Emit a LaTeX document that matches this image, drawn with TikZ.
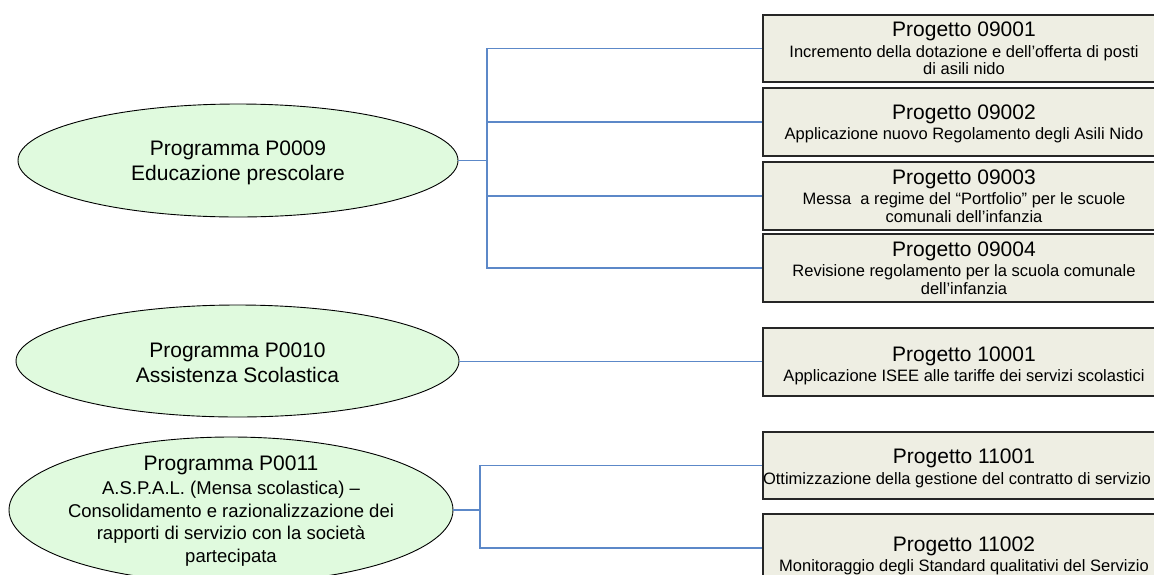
\documentclass[tikz,border=0pt]{standalone}
\usepackage{fontspec}
\setmainfont{Liberation Sans}
\usetikzlibrary{shapes.geometric}
\definecolor{ellfill}{RGB}{224,250,222}
\definecolor{boxfill}{RGB}{238,238,227}
\definecolor{linkblue}{RGB}{92,136,200}
\newcommand{\ttlfont}{\fontsize{21}{25}\selectfont}
\newcommand{\subfont}{\fontsize{16.5}{17.7}\selectfont}
\newcommand{\ellsub}{\fontsize{18.5}{22.7}\selectfont}
\tikzset{
  progell/.style={ellipse, draw=black, line width=0.9pt, fill=ellfill, inner sep=0pt,
    minimum width=#1},
  progetto/.style={rectangle, draw=black!85, line width=1.3pt, fill=boxfill, inner sep=0pt,
    minimum width=402pt, minimum height=67pt},
  ptext/.style={align=center, font=\subfont, inner sep=0pt},
  ettext/.style={align=center, font=\ttlfont, inner sep=0pt, yshift=-2pt},
  link/.style={draw=linkblue, line width=1.2pt},
}
\begin{document}
\begin{tikzpicture}[x=1pt,y=-1pt]
\useasboundingbox (0,0) rectangle (1154,574);
\clip (0,0) rectangle (1154,574);

% ellipses
\node[progell=440pt, minimum height=113pt,
  label={[ettext]center:Programma P0009\\Educazione prescolare}] (e9) at (238,160.5) {};
\node[progell=443pt, minimum height=112pt,
  label={[ettext]center:Programma P0010\\Assistenza Scolastica}] (e10) at (237.5,361) {};
\node[progell=444pt, minimum height=146pt,
  label={[ettext, font=\ellsub, yshift=1pt]center:{\ttlfont Programma P0011}\\[1.3pt]A.S.P.A.L. (Mensa scolastica) –\\Consolidamento e razionalizzazione dei\\rapporti di servizio con la società\\partecipata}] (e11) at (231,510) {};

% boxes
\node[progetto, minimum height=67pt,
  label={[ptext]center:{\ttlfont Progetto 09001}\\[2.9pt]Incremento della dotazione e dell’offerta di posti\\di asili nido}] (p1) at (964,48.5) {};
\node[progetto, minimum height=68pt,
  label={[ptext, yshift=-2pt]center:{\ttlfont Progetto 09002}\\[2.9pt]Applicazione nuovo Regolamento degli Asili Nido}] (p2) at (964,122) {};
\node[progetto, minimum height=68pt,
  label={[ptext]center:{\ttlfont Progetto 09003}\\[2.9pt]Messa\ \ a regime del “Portfolio” per le scuole\\comunali dell’infanzia}] (p3) at (964,196) {};
\node[progetto, minimum height=68pt,
  label={[ptext]center:{\ttlfont Progetto 09004}\\[2.9pt]Revisione regolamento per la scuola comunale\\dell’infanzia}] (p4) at (964,268) {};
\node[progetto, minimum height=68pt,
  label={[ptext, yshift=-4pt]center:{\ttlfont Progetto 10001}\\[2.9pt]Applicazione ISEE alle tariffe dei servizi scolastici}] (p10) at (964,362) {};
\node[progetto, minimum height=67pt,
  label={[ptext, yshift=-3pt]center:{\ttlfont Progetto 11001}\\[2.9pt]\hspace*{-14pt}Ottimizzazione della gestione del contratto di servizio}] (p111) at (964,465.5) {};
\node[progetto, minimum height=68pt,
  label={[ptext, yshift=-8pt]center:{\ttlfont Progetto 11002}\\[2.9pt]Monitoraggio degli Standard qualitativi del Servizio}] (p112) at (964,548) {};

% connectors
\coordinate (b9) at (487,160.5);
\coordinate (b11) at (480,510);
\draw[link, line width=1.8pt] (e9.east) -- (b9);
\draw[link] (b9) |- (p1.west);
\draw[link] (b9) |- (p2.west);
\draw[link] (b9) |- (p3.west);
\draw[link] (b9) |- (p4.west);
\draw[link, line width=1pt] (e10.east) -- (e10.east -| p10.west);
\draw[link] (e11.east) -- (b11);
\draw[link] (b11) |- (p111.west);
\draw[link] (b11) |- (p112.west);
\end{tikzpicture}
\end{document}
